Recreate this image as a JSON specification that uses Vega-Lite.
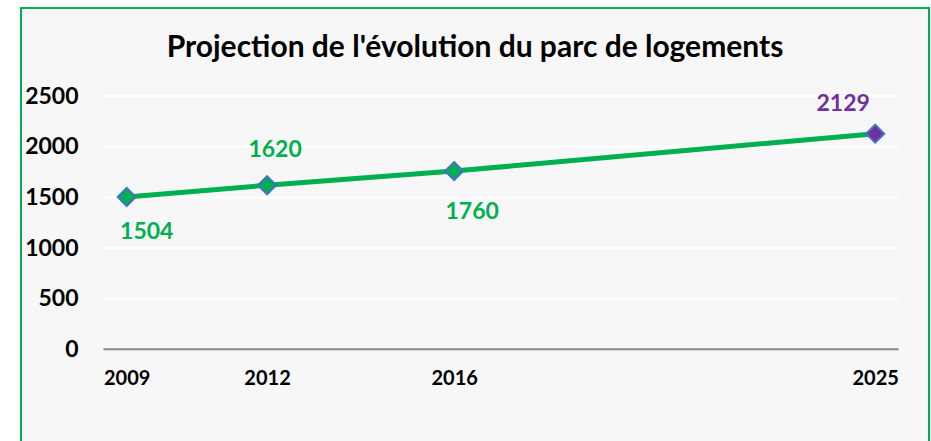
{
  "$schema": "https://vega.github.io/schema/vega-lite/v6.json",
  "width": 908,
  "height": 440,
  "autosize": {"type": "none"},
  "padding": {"left": 21, "top": 8, "right": 2, "bottom": 0},
  "background": "white",
  "config": {
    "view": {"fill": "#f7f7f7", "stroke": "#00b050", "strokeWidth": 2},
    "font": "Lato"
  },
  "title": {
    "text": "Projection de l'évolution du parc de logements",
    "font": "Lato",
    "fontSize": 30,
    "fontWeight": "bold",
    "color": "#000000",
    "anchor": "middle",
    "baseline": "alphabetic",
    "offset": -79
  },
  "datasets": {
    "parc": [
      {"annee": 2009, "logements": 1504, "statut": "observé"},
      {"annee": 2012, "logements": 1620, "statut": "observé"},
      {"annee": 2016, "logements": 1760, "statut": "observé"},
      {"annee": 2025, "logements": 2129, "statut": "projection"}
    ],
    "grille": [
      {"logements": 0},
      {"logements": 500},
      {"logements": 1000},
      {"logements": 1500},
      {"logements": 2000},
      {"logements": 2500}
    ]
  },
  "layer": [
    {
      "data": {"name": "grille"},
      "transform": [{"filter": "datum.logements > 0"}],
      "mark": {"type": "rule", "color": "#ffffff", "strokeWidth": 2},
      "encoding": {
        "y": {"field": "logements", "type": "quantitative", "scale": {"domain": [-974, 3370], "nice": false, "zero": false}},
        "x": {"datum": 2008.5, "type": "quantitative", "scale": {"domain": [2006.74, 2026.15], "nice": false, "zero": false}},
        "x2": {"datum": 2025.5}
      }
    },
    {
      "data": {"name": "grille"},
      "transform": [{"filter": "datum.logements == 0"}],
      "mark": {"type": "rule", "color": "#898989", "strokeWidth": 2},
      "encoding": {
        "y": {"field": "logements", "type": "quantitative", "scale": {"domain": [-974, 3370], "nice": false, "zero": false}},
        "x": {"datum": 2008.5, "type": "quantitative", "scale": {"domain": [2006.74, 2026.15], "nice": false, "zero": false}},
        "x2": {"datum": 2025.5}
      }
    },
    {
      "data": {"name": "parc"},
      "mark": {"type": "line", "color": "#00b050", "strokeWidth": 5},
      "encoding": {
        "x": {
          "field": "annee", "type": "quantitative",
          "scale": {"domain": [2006.74, 2026.15], "nice": false, "zero": false},
          "axis": {
            "values": [2009, 2012, 2016, 2025], "format": "d", "title": null,
            "domain": false, "ticks": false, "grid": false, "offset": -99,
            "labelPadding": 19, "labelFontSize": 20, "labelFontWeight": "bold",
            "labelColor": "#000000", "labelFont": "Lato", "labelFlush": false
          }
        },
        "y": {
          "field": "logements", "type": "quantitative",
          "scale": {"domain": [-974, 3370], "nice": false, "zero": false},
          "axis": {
            "values": [0, 500, 1000, 1500, 2000, 2500], "format": "d", "title": null,
            "domain": false, "ticks": false, "grid": false, "offset": -82,
            "labelPadding": 25, "labelFontSize": 23, "labelFontWeight": "bold",
            "labelColor": "#000000", "labelFont": "Lato"
          }
        }
      }
    },
    {
      "data": {"name": "parc"},
      "mark": {"type": "point", "shape": "diamond", "filled": true, "size": 324, "stroke": "#4472c4", "strokeWidth": 2, "opacity": 1},
      "encoding": {
        "x": {"field": "annee", "type": "quantitative"},
        "y": {"field": "logements", "type": "quantitative"},
        "fill": {"field": "statut", "type": "nominal", "scale": {"domain": ["observé", "projection"], "range": ["#00b050", "#7030a0"]}, "legend": null}
      }
    },
    {
      "data": {"name": "parc"},
      "transform": [{"filter": "datum.annee == 2009"}],
      "mark": {"type": "text", "font": "Lato", "fontSize": 23, "fontWeight": "bold", "dx": 20, "dy": 35, "align": "center", "baseline": "middle"},
      "encoding": {
        "x": {"field": "annee", "type": "quantitative"},
        "y": {"field": "logements", "type": "quantitative"},
        "text": {"field": "logements", "type": "quantitative", "format": "d"},
        "color": {"field": "statut", "type": "nominal", "scale": {"domain": ["observé", "projection"], "range": ["#00b050", "#7030a0"]}, "legend": null}
      }
    },
    {
      "data": {"name": "parc"},
      "transform": [{"filter": "datum.annee == 2012"}],
      "mark": {"type": "text", "font": "Lato", "fontSize": 23, "fontWeight": "bold", "dx": 8, "dy": -35, "align": "center", "baseline": "middle"},
      "encoding": {
        "x": {"field": "annee", "type": "quantitative"},
        "y": {"field": "logements", "type": "quantitative"},
        "text": {"field": "logements", "type": "quantitative", "format": "d"},
        "color": {"field": "statut", "type": "nominal", "scale": {"domain": ["observé", "projection"], "range": ["#00b050", "#7030a0"]}, "legend": null}
      }
    },
    {
      "data": {"name": "parc"},
      "transform": [{"filter": "datum.annee == 2016"}],
      "mark": {"type": "text", "font": "Lato", "fontSize": 23, "fontWeight": "bold", "dx": 18, "dy": 41, "align": "center", "baseline": "middle"},
      "encoding": {
        "x": {"field": "annee", "type": "quantitative"},
        "y": {"field": "logements", "type": "quantitative"},
        "text": {"field": "logements", "type": "quantitative", "format": "d"},
        "color": {"field": "statut", "type": "nominal", "scale": {"domain": ["observé", "projection"], "range": ["#00b050", "#7030a0"]}, "legend": null}
      }
    },
    {
      "data": {"name": "parc"},
      "transform": [{"filter": "datum.annee == 2025"}],
      "mark": {"type": "text", "font": "Lato", "fontSize": 23, "fontWeight": "bold", "dx": -32, "dy": -30, "align": "center", "baseline": "middle"},
      "encoding": {
        "x": {"field": "annee", "type": "quantitative"},
        "y": {"field": "logements", "type": "quantitative"},
        "text": {"field": "logements", "type": "quantitative", "format": "d"},
        "color": {"field": "statut", "type": "nominal", "scale": {"domain": ["observé", "projection"], "range": ["#00b050", "#7030a0"]}, "legend": null}
      }
    }
  ]
}
